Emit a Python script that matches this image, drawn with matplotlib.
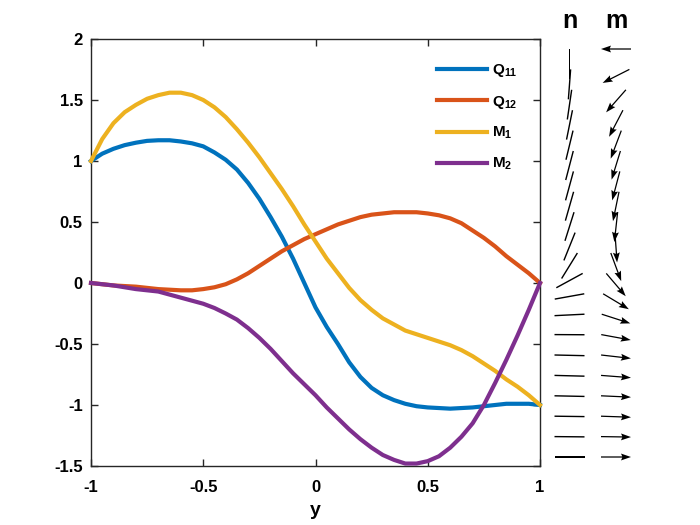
import matplotlib
matplotlib.use('Agg')
import matplotlib.pyplot as plt
import numpy as np

# channel coordinate and the four fields
y = [-1.00, -0.95, -0.90, -0.85, -0.80, -0.75, -0.70, -0.65, -0.60, -0.55,
     -0.50, -0.45, -0.40, -0.35, -0.30, -0.25, -0.20, -0.15, -0.10, -0.05,
     0.00, 0.05, 0.10, 0.15, 0.20, 0.25, 0.30, 0.35, 0.40, 0.45,
     0.50, 0.55, 0.60, 0.65, 0.70, 0.75, 0.80, 0.85, 0.90, 0.95, 1.00]
q11 = [1.00, 1.06, 1.10, 1.13, 1.15, 1.165, 1.17, 1.17, 1.16, 1.145,
       1.12, 1.07, 1.01, 0.93, 0.82, 0.69, 0.54, 0.38, 0.20, 0.00,
       -0.20, -0.36, -0.50, -0.65, -0.77, -0.86, -0.92, -0.96, -0.99, -1.01,
       -1.02, -1.025, -1.03, -1.025, -1.02, -1.01, -1.00, -0.99, -0.99, -0.99, -1.00]
q12 = [0.00, -0.01, -0.02, -0.025, -0.03, -0.04, -0.05, -0.055, -0.06, -0.06,
       -0.05, -0.035, -0.01, 0.03, 0.08, 0.14, 0.20, 0.26, 0.31, 0.36,
       0.40, 0.44, 0.48, 0.51, 0.54, 0.56, 0.57, 0.58, 0.58, 0.58,
       0.57, 0.555, 0.53, 0.49, 0.43, 0.37, 0.30, 0.22, 0.15, 0.08, 0.00]
m1 = [1.00, 1.18, 1.31, 1.40, 1.46, 1.51, 1.54, 1.56, 1.56, 1.54,
      1.50, 1.44, 1.36, 1.26, 1.15, 1.03, 0.90, 0.77, 0.63, 0.48,
      0.34, 0.20, 0.08, -0.04, -0.14, -0.22, -0.29, -0.34, -0.39, -0.42,
      -0.45, -0.48, -0.51, -0.55, -0.60, -0.66, -0.72, -0.79, -0.85, -0.92, -1.00]
m2 = [0.00, -0.01, -0.02, -0.035, -0.05, -0.06, -0.07, -0.095, -0.12, -0.145,
      -0.17, -0.205, -0.25, -0.30, -0.37, -0.45, -0.54, -0.64, -0.74, -0.83,
      -0.92, -1.02, -1.11, -1.20, -1.28, -1.35, -1.41, -1.45, -1.48, -1.48,
      -1.46, -1.42, -1.35, -1.26, -1.15, -1.00, -0.82, -0.63, -0.43, -0.22, 0.00]

labels = ['Q$_{11}$', 'Q$_{12}$', 'M$_1$', 'M$_2$']
colors = ['#0072BD', '#D95319', '#EDB120', '#7E2F8E']

plt.rcParams['font.family'] = ['Liberation Sans', 'DejaVu Sans']
plt.rcParams['font.weight'] = 'bold'
plt.rcParams['mathtext.fontset'] = 'custom'
plt.rcParams['mathtext.rm'] = 'Liberation Sans:bold'
plt.rcParams['mathtext.it'] = 'Liberation Sans:bold'
plt.rcParams['mathtext.bf'] = 'Liberation Sans:bold'

W, H = 700, 525
fig = plt.figure(figsize=(7, 5.25), dpi=100)
ax = fig.add_axes([91 / W, 1 - 466 / H, 449 / W, 427 / H])

for vals, lab, c in zip([q11, q12, m1, m2], labels, colors):
    ax.plot(y, vals, color=c, lw=3, label=lab, clip_on=False, zorder=3,
            solid_joinstyle='round')

ax.set_xlim(-1, 1)
ax.set_ylim(-1.5, 2)
ax.set_xticks([-1, -0.5, 0, 0.5, 1])
ax.set_xticklabels(['-1', '-0.5', '0', '0.5', '1'])
ax.set_yticks([-1.5, -1, -0.5, 0, 0.5, 1, 1.5, 2])
ax.set_yticklabels(['-1.5', '-1', '-0.5', '0', '0.5', '1', '1.5', '2'])
ax.tick_params(direction='in', length=5, width=1, top=True, right=True,
               labelsize=12, colors='#262626', labelcolor='black')
ax.tick_params(axis='x', pad=10)
ax.tick_params(axis='y', pad=6)
for s in ax.spines.values():
    s.set_color('#262626')
    s.set_linewidth(1)
ax.set_xlabel('y', fontsize=14, fontweight='bold', labelpad=5)

ax.legend(loc='upper left', bbox_to_anchor=(437 / W, 1 - 62 / H),
          bbox_transform=fig.transFigure, frameon=False, fontsize=11,
          handlelength=3.3, handletextpad=0.3, labelspacing=0.95,
          borderpad=0, borderaxespad=0)

# director n and polarisation m along the channel, every other sample
qa = fig.add_axes([546.25 / W, 1 - 457 / H, 93 / W, 408 / H])
qa.set_xlim(-0.5, 1.5)
qa.set_ylim(-1, 1)
qa.axis('off')

px_x = 93 / 2.0
px_y = 408 / 2.0
L = 30.0

yy = np.array(y)[::2]
theta = 0.5 * np.arctan2(q12, q11)[::2]
nx, ny = np.cos(theta), np.sin(theta)
flip = ny > 0
nx[flip], ny[flip] = -nx[flip], -ny[flip]
nu, nv = L * nx / px_x, L * ny / px_y

mx, my = np.array(m1)[::2], np.array(m2)[::2]
mm = np.hypot(mx, my)
mu, mv = L * mx / mm / px_x, L * my / mm / px_y

qa.quiver(0 - nu / 2, yy, nu, nv, angles='xy', scale_units='xy', scale=1,
          units='dots', width=1.4, headwidth=0, headlength=0,
          headaxislength=0, color='black', clip_on=False)
qa.quiver(1 - mu / 2, yy, mu, mv, angles='xy', scale_units='xy', scale=1,
          units='dots', width=1.25, headwidth=5.5, headlength=8,
          headaxislength=7, color='black', clip_on=False)

qa.text(0, 1.103, 'n', ha='center', va='baseline', fontsize=18,
        fontweight='bold')
qa.text(1, 1.103, 'm', ha='center', va='baseline', fontsize=18,
        fontweight='bold')

fig.savefig('out.png', dpi=100)
